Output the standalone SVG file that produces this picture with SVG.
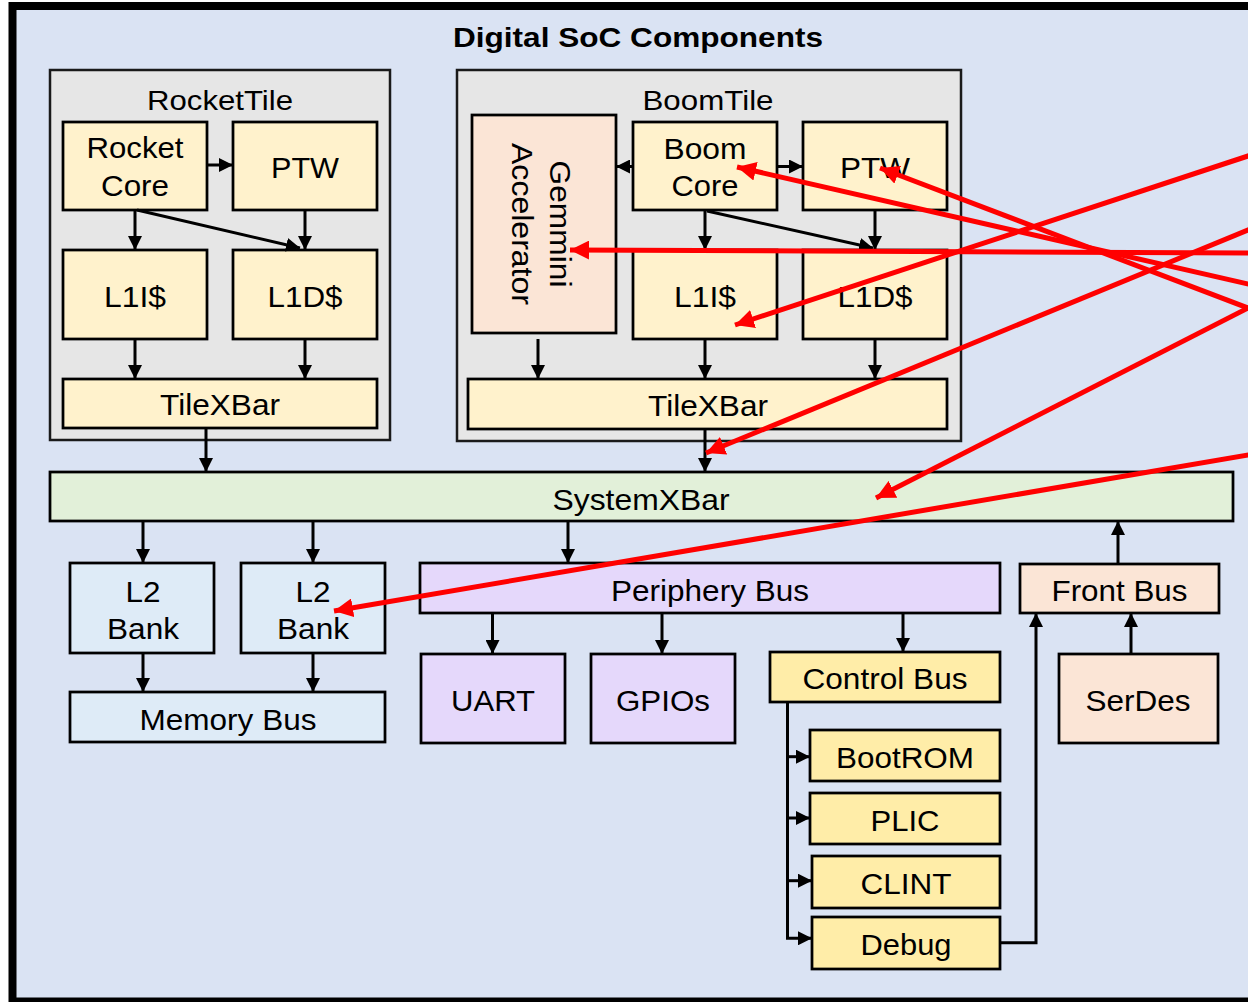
<svg xmlns="http://www.w3.org/2000/svg" width="1248" height="1002" viewBox="0 0 1248 1002">
<defs>
<style>
text { font-family: "Liberation Sans", Arial, Helvetica, sans-serif; fill: #000; }
.lbl { font-size: 30px; text-anchor: middle; }
.ttl { font-size: 28px; text-anchor: middle; }
.head { font-size: 28px; font-weight: bold; text-anchor: middle; }
.box { stroke: #000; stroke-width: 2.75; }
.tile { fill: #E6E6E6; stroke: #1a1a1a; stroke-width: 2.5; }
.cream { fill: #FFF2CC; }
.peach { fill: #FBE5D6; }
.green { fill: #E2F0D9; }
.blue { fill: #DEEBF7; }
.lav { fill: #E5D8FB; }
.gold { fill: #FFEDA8; }
.wire { fill: none; stroke: #000; stroke-width: 3; marker-end: url(#ah); }
.red { fill: none; stroke: #FF0000; stroke-width: 5; marker-end: url(#rh); }
</style>
<marker id="ah" markerUnits="userSpaceOnUse" markerWidth="14" markerHeight="14" viewBox="0 0 14 14" refX="14" refY="7" orient="auto"><path d="M0,0 L14,7 L0,14 z" fill="#000"/></marker>
<marker id="rh" markerUnits="userSpaceOnUse" markerWidth="19" markerHeight="19" viewBox="0 0 18 18" refX="18" refY="9" orient="auto"><path d="M0,0 L18,9 L0,18 z" fill="#FF0000"/></marker>
</defs>
<rect x="0" y="0" width="1248" height="1002" fill="#fff"/>
<g id="soc">
<rect x="12.5" y="6" width="1300" height="995.5" fill="#DAE3F3" stroke="#000" stroke-width="8"/>
<text class="head" x="638" y="47" textLength="370" lengthAdjust="spacingAndGlyphs">Digital SoC Components</text>
</g>
<g id="rocket-tile">
<rect class="tile" x="50" y="70" width="340" height="370"/>
<text class="ttl" x="220" y="110" textLength="146" lengthAdjust="spacingAndGlyphs">RocketTile</text>
</g>
<g id="rocket-core">
<rect class="box cream" x="63" y="122" width="144" height="88"/>
<text class="lbl" x="135" y="158" textLength="97" lengthAdjust="spacingAndGlyphs">Rocket</text>
<text class="lbl" x="135" y="196" textLength="68" lengthAdjust="spacingAndGlyphs">Core</text>
</g>
<g id="rocket-ptw">
<rect class="box cream" x="233" y="122" width="144" height="88"/>
<text class="lbl" x="305" y="178" textLength="68" lengthAdjust="spacingAndGlyphs">PTW</text>
</g>
<g id="rocket-l1i">
<rect class="box cream" x="63" y="250" width="144" height="89"/>
<text class="lbl" x="135" y="307" textLength="62" lengthAdjust="spacingAndGlyphs">L1I$</text>
</g>
<g id="rocket-l1d">
<rect class="box cream" x="233" y="250" width="144" height="89"/>
<text class="lbl" x="305" y="307" textLength="75" lengthAdjust="spacingAndGlyphs">L1D$</text>
</g>
<g id="rocket-tilexbar">
<rect class="box cream" x="63" y="379" width="314" height="49"/>
<text class="lbl" x="220" y="415" textLength="120" lengthAdjust="spacingAndGlyphs">TileXBar</text>
</g>
<g id="boom-tile">
<rect class="tile" x="457" y="70" width="504" height="371"/>
<text class="ttl" x="708" y="110" textLength="131" lengthAdjust="spacingAndGlyphs">BoomTile</text>
</g>
<g id="gemmini">
<rect class="box peach" x="472" y="115" width="144" height="218"/>
<g transform="translate(544,224) rotate(90)">
<text class="lbl" x="0" y="-6" textLength="127" lengthAdjust="spacingAndGlyphs">Gemmini</text>
<text class="lbl" x="0" y="32" textLength="162" lengthAdjust="spacingAndGlyphs">Accelerator</text>
</g>
</g>
<g id="boom-core">
<rect class="box cream" x="633" y="122" width="144" height="88"/>
<text class="lbl" x="705" y="159" textLength="83" lengthAdjust="spacingAndGlyphs">Boom</text>
<text class="lbl" x="705" y="196" textLength="67" lengthAdjust="spacingAndGlyphs">Core</text>
</g>
<g id="boom-ptw">
<rect class="box cream" x="803" y="122" width="144" height="88"/>
<text class="lbl" x="875" y="178" textLength="70" lengthAdjust="spacingAndGlyphs">PTW</text>
</g>
<g id="boom-l1i">
<rect class="box cream" x="633" y="250" width="144" height="89"/>
<text class="lbl" x="705" y="307" textLength="62" lengthAdjust="spacingAndGlyphs">L1I$</text>
</g>
<g id="boom-l1d">
<rect class="box cream" x="803" y="250" width="144" height="89"/>
<text class="lbl" x="875" y="307" textLength="75" lengthAdjust="spacingAndGlyphs">L1D$</text>
</g>
<g id="boom-tilexbar">
<rect class="box cream" x="468" y="379" width="479" height="50"/>
<text class="lbl" x="708" y="416" textLength="120" lengthAdjust="spacingAndGlyphs">TileXBar</text>
</g>
<g id="systemxbar">
<rect class="box green" x="50" y="472" width="1183" height="49"/>
<text class="lbl" x="641" y="510" textLength="177" lengthAdjust="spacingAndGlyphs">SystemXBar</text>
</g>
<g id="l2-bank-0">
<rect class="box blue" x="70" y="563" width="144" height="90"/>
<text class="lbl" x="143" y="602" textLength="35" lengthAdjust="spacingAndGlyphs">L2</text>
<text class="lbl" x="143" y="639" textLength="72" lengthAdjust="spacingAndGlyphs">Bank</text>
</g>
<g id="l2-bank-1">
<rect class="box blue" x="241" y="563" width="144" height="90"/>
<text class="lbl" x="313" y="602" textLength="35" lengthAdjust="spacingAndGlyphs">L2</text>
<text class="lbl" x="313" y="639" textLength="72" lengthAdjust="spacingAndGlyphs">Bank</text>
</g>
<g id="memory-bus">
<rect class="box blue" x="70" y="692" width="315" height="50"/>
<text class="lbl" x="228" y="730" textLength="177" lengthAdjust="spacingAndGlyphs">Memory Bus</text>
</g>
<g id="periphery-bus">
<rect class="box lav" x="420" y="563" width="580" height="50"/>
<text class="lbl" x="710" y="601" textLength="198" lengthAdjust="spacingAndGlyphs">Periphery Bus</text>
</g>
<g id="uart">
<rect class="box lav" x="421" y="654" width="144" height="89"/>
<text class="lbl" x="493" y="711" textLength="84" lengthAdjust="spacingAndGlyphs">UART</text>
</g>
<g id="gpios">
<rect class="box lav" x="591" y="654" width="144" height="89"/>
<text class="lbl" x="663" y="711" textLength="94" lengthAdjust="spacingAndGlyphs">GPIOs</text>
</g>
<g id="control-bus">
<rect class="box gold" x="770" y="652" width="230" height="50"/>
<text class="lbl" x="885" y="689" textLength="165" lengthAdjust="spacingAndGlyphs">Control Bus</text>
</g>
<g id="bootrom">
<rect class="box gold" x="810" y="730" width="190" height="51"/>
<text class="lbl" x="905" y="768" textLength="138" lengthAdjust="spacingAndGlyphs">BootROM</text>
</g>
<g id="plic">
<rect class="box gold" x="810" y="793" width="190" height="51"/>
<text class="lbl" x="905" y="831" textLength="69" lengthAdjust="spacingAndGlyphs">PLIC</text>
</g>
<g id="clint">
<rect class="box gold" x="812" y="856" width="188" height="52"/>
<text class="lbl" x="906" y="894" textLength="91" lengthAdjust="spacingAndGlyphs">CLINT</text>
</g>
<g id="debug">
<rect class="box gold" x="812" y="917" width="188" height="52"/>
<text class="lbl" x="906" y="955" textLength="91" lengthAdjust="spacingAndGlyphs">Debug</text>
</g>
<g id="front-bus">
<rect class="box peach" x="1020" y="564" width="199" height="49"/>
<text class="lbl" x="1119.5" y="601" textLength="136" lengthAdjust="spacingAndGlyphs">Front Bus</text>
</g>
<g id="serdes">
<rect class="box peach" x="1059" y="654" width="159" height="89"/>
<text class="lbl" x="1138" y="711" textLength="105" lengthAdjust="spacingAndGlyphs">SerDes</text>
</g>
<g id="connectors">
<path class="wire" d="M207,165 H233"/>
<path class="wire" d="M135,210 V250"/>
<path class="wire" d="M137,210 L300,248"/>
<path class="wire" d="M305,210 V250"/>
<path class="wire" d="M135,339 V379"/>
<path class="wire" d="M305,339 V379"/>
<path class="wire" d="M206,428 V472"/>
<path class="wire" d="M633,166.5 H616"/>
<path class="wire" d="M777,166.5 H803"/>
<path class="wire" d="M705,210 V250"/>
<path class="wire" d="M707,211 L873,248"/>
<path class="wire" d="M875,210 V250"/>
<path class="wire" d="M538,339 V379"/>
<path class="wire" d="M705,339 V379"/>
<path class="wire" d="M875,339 V379"/>
<path class="wire" d="M705,429 V472"/>
<path class="wire" d="M143,521 V563"/>
<path class="wire" d="M313,521 V563"/>
<path class="wire" d="M568,521 V563"/>
<path class="wire" d="M143,653 V692"/>
<path class="wire" d="M313,653 V692"/>
<path class="wire" d="M492.5,613 V654"/>
<path class="wire" d="M662,613 V654"/>
<path class="wire" d="M903,613 V652"/>
<path class="wire" d="M787.5,702 V938.3 H812"/>
<path class="wire" d="M787.5,756.7 H810"/>
<path class="wire" d="M787.5,818 H810"/>
<path class="wire" d="M787.5,880.7 H812"/>
<path class="wire" d="M1000,942.7 H1036 V613"/>
<path class="wire" d="M1131,654 V613"/>
<path class="wire" d="M1118,564 V521"/>
<path class="red" d="M1258,152.7 L735,325"/>
<path class="red" d="M1258,225.9 L706,453"/>
<path class="red" d="M1258,253 L570,250"/>
<path class="red" d="M1258,286.3 L737,167"/>
<path class="red" d="M1252,309.5 L880,168"/>
<path class="red" d="M1252,306 L876,498"/>
<path class="red" d="M1258,453.3 L334,611"/>
</g>
</svg>
